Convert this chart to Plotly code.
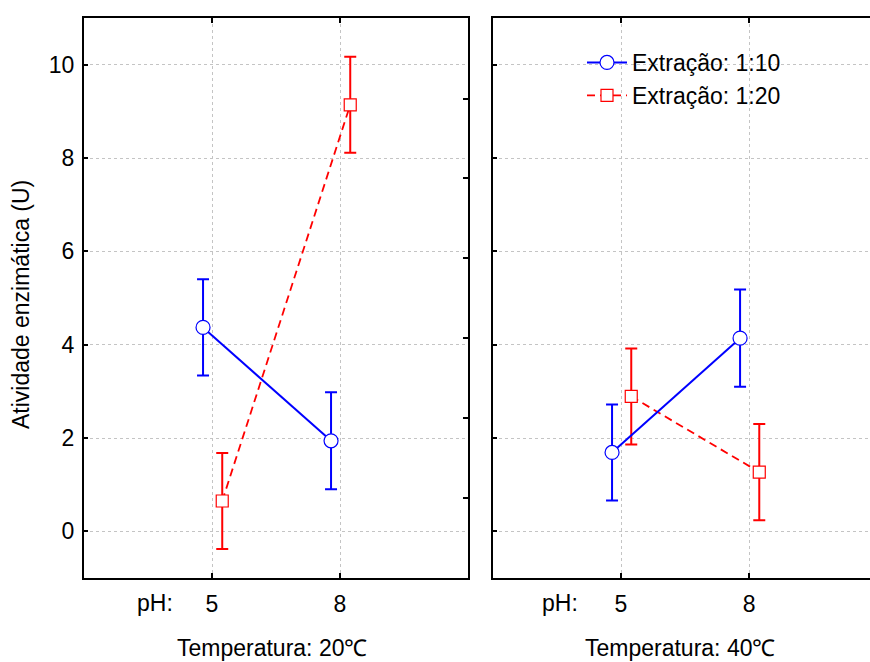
import plotly.graph_objects as go

# ---- data ----
ph_levels = ["5", "8"]
temp_labels = ["Temperatura: 20℃", "Temperatura: 40℃"]
series_names = ["Extração: 1:10", "Extração: 1:20"]

ext110_t20 = [4.37, 1.94]
ext120_t20 = [0.65, 9.14]
ext110_t40 = [1.69, 4.14]
ext120_t40 = [2.89, 1.27]

err110_t20 = [1.03, 1.04]
err120_t20 = [1.03, 1.03]
err110_t40 = [1.03, 1.04]
err120_t40 = [1.03, 1.03]

y_ticks = [0, 2, 4, 6, 8, 10]

# ---- style ----
FONT = "Arial, Liberation Sans, sans-serif"
FS = 23
BLUE = "#0000ff"
RED = "#ff0000"
W, H = 870, 662
ML, MR, MT, MB = 84, 0, 18, 84
PW = W - ML - MR
PH = H - MT - MB


def px_x(px):
    return (px - ML) / PW


def px_y(py):
    return 1 - (py - MT) / PH


pos = list(range(len(ph_levels)))
dodge_a = -0.07
dodge_b = 0.08

fig = go.Figure()

panels = [
    ("x", "y", ext110_t20, err110_t20, ext120_t20, err120_t20, True),
    ("x2", "y2", ext110_t40, err110_t40, ext120_t40, err120_t40, False),
]

for xa, ya, a_vals, a_err, b_vals, b_err, first in panels:
    fig.add_trace(go.Scatter(
        x=[p + dodge_b for p in pos], y=b_vals, xaxis=xa, yaxis=ya,
        mode="lines+markers", name=series_names[1], showlegend=not first,
        line=dict(color=RED, width=1.8, dash="8px,5px"),
        marker=dict(symbol="square", size=12, color="white",
                    line=dict(color=RED, width=1.2)),
        error_y=dict(type="data", array=b_err, color=RED, thickness=2, width=6),
        legendrank=2,
    ))
    fig.add_trace(go.Scatter(
        x=[p + dodge_a for p in pos], y=a_vals, xaxis=xa, yaxis=ya,
        mode="lines+markers", name=series_names[0], showlegend=not first,
        line=dict(color=BLUE, width=2),
        marker=dict(symbol="circle", size=14, color="white",
                    line=dict(color=BLUE, width=1.2)),
        error_y=dict(type="data", array=a_err, color=BLUE, thickness=2, width=6),
        legendrank=1,
    ))

left_dom = [0, px_x(468)]
right_dom = [px_x(493), 1]

common_x = dict(
    tickmode="array", tickvals=pos, ticktext=ph_levels,
    showgrid=True, gridcolor="#c4c4c4", griddash="dot", gridwidth=1,
    zeroline=False, showline=True, linecolor="black", linewidth=2,
    mirror="ticks", ticks="inside", ticklen=5, tickcolor="black", tickwidth=2,
    tickfont=dict(family=FONT, size=FS, color="black"),
    ticklabelstandoff=4,
)
common_y = dict(
    range=[-1, 11], tickmode="array", tickvals=y_ticks,
    showgrid=True, gridcolor="#c4c4c4", griddash="dot", gridwidth=1,
    zeroline=False, showline=True, linecolor="black", linewidth=2,
    ticks="inside", ticklen=4, tickcolor="black", tickwidth=2,
    tickfont=dict(family=FONT, size=FS, color="black"),
)

fig.update_layout(
    width=W, height=H,
    margin=dict(l=ML, r=MR, t=MT, b=MB),
    paper_bgcolor="white", plot_bgcolor="white",
    font=dict(family=FONT, size=FS, color="black"),
    xaxis=dict(domain=left_dom, range=[-1, 2], anchor="y", **common_x),
    xaxis2=dict(domain=right_dom, range=[-1, 1.945], anchor="y2", **common_x),
    yaxis=dict(anchor="x", ticklabelstandoff=3, **common_y),
    yaxis2=dict(anchor="x2", showticklabels=False, **common_y),
    yaxis3=dict(overlaying="y", side="right", anchor="x", range=[-1, 11],
                tickmode="linear", tick0=0.71, dtick=1.713,
                showgrid=False, zeroline=False, showline=True,
                linecolor="black", linewidth=2, ticks="inside", ticklen=5,
                tickcolor="black", tickwidth=2, showticklabels=False),
    legend=dict(x=px_x(582), y=px_y(41), xanchor="left", yanchor="top",
                bgcolor="rgba(0,0,0,0)", font=dict(family=FONT, size=FS),
                tracegroupgap=0, itemwidth=40),
    showlegend=True,
)

# dummy trace to activate yaxis3
fig.add_trace(go.Scatter(x=[None], y=[None], xaxis="x", yaxis="y3",
                         showlegend=False, hoverinfo="skip"))

annotations = [
    dict(text="Atividade enzimática (U)", x=px_x(21), y=px_y(305),
         textangle=-90),
    dict(text="pH:", x=px_x(155), y=px_y(603)),
    dict(text="pH:", x=px_x(560), y=px_y(603)),
    dict(text=temp_labels[0], x=px_x(272), y=px_y(648)),
    dict(text=temp_labels[1], x=px_x(680), y=px_y(648)),
]
for a in annotations:
    fig.add_annotation(xref="paper", yref="paper", showarrow=False,
                       xanchor="center", yanchor="middle",
                       font=dict(family=FONT, size=FS, color="black"), **a)

fig.write_html(
    "out.html",
    config={"displayModeBar": False},
    post_script="document.body.style.margin='0';document.body.style.overflow='hidden';",
)
